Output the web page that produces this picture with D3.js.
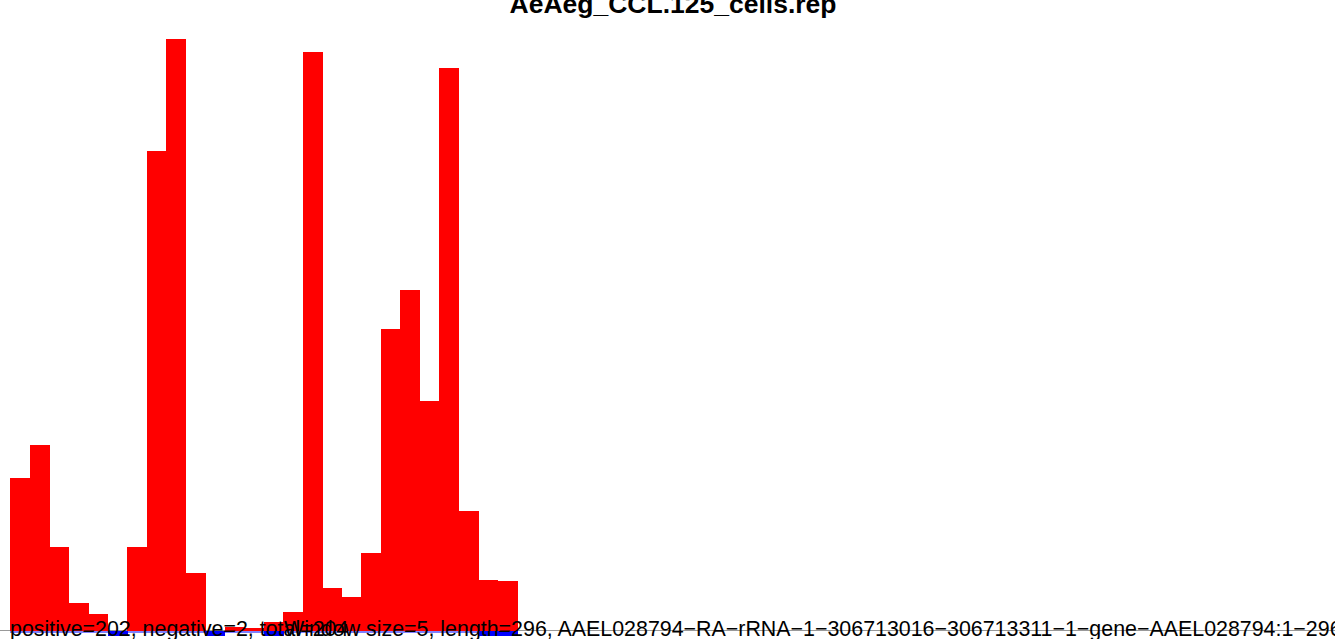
<!DOCTYPE html>
<html>
<head>
<meta charset="utf-8">
<script src="https://cdn.jsdelivr.net/npm/d3@7"></script>
<style>
  html, body { margin: 0; padding: 0; background: #fff; overflow: hidden; }
  svg { display: block; }
</style>
</head>
<body>
<script>
// ---- data (window index -> read density) ----
const windows = d3.range(26);
const positiveValues = [153, 186, 84, 28, 17, 0, 84, 480, 592, 58, 0, 4, 3, 9, 19, 579, 43, 34, 78, 302, 341, 230, 563, 120, 51, 50];
const negativeValues = [0, 0, 0, 0, 0, -5, 0, 0, 0, 0, -5, 0, 0, -5, 0, 0, 0, 0, 0, 0, 0, 0, 0, 0, -5, -5];
const titleText = "AeAeg_CCL.125_cells.rep";
const infoText = "positive=202, negative=2, total=204";
const windowText = "Window size=5, length=296, AAEL028794\u2212RA\u2212rRNA\u22121\u2212306713016\u2212306713311\u22121\u2212gene\u2212AAEL028794:1\u2212296";

const W = 1335, H = 639;
const svg = d3.select("body").append("svg").attr("width", W).attr("height", H);

const x = d3.scaleLinear().domain([0, 26]).range([10, 517]);
const y = d3.scaleLinear().domain([0, 592]).range([631, 39]);

// gray zero line
svg.append("line")
  .attr("x1", 0).attr("x2", W)
  .attr("y1", 630.5).attr("y2", 630.5)
  .attr("stroke", "#999").attr("stroke-width", 1);

// positive bars
svg.append("g").attr("shape-rendering", "crispEdges")
  .selectAll("rect.pos").data(windows).join("rect")
  .attr("x", i => x(i))
  .attr("width", i => x(i + 1) - x(i) + 0.5)
  .attr("y", i => y(positiveValues[i]))
  .attr("height", i => y(0) - y(positiveValues[i]))
  .attr("fill", "#ff0000");

// negative bars
svg.append("g").attr("shape-rendering", "crispEdges")
  .selectAll("rect.neg").data(windows.filter(i => negativeValues[i] < 0)).join("rect")
  .attr("x", i => x(i))
  .attr("width", i => x(i + 1) - x(i) + 0.5)
  .attr("y", y(0))
  .attr("height", i => y(negativeValues[i]) - y(0))
  .attr("fill", "#0000ff");

// blue baseline for negative strand
svg.append("line")
  .attr("x1", x(0)).attr("x2", x(26))
  .attr("y1", 632).attr("y2", 632)
  .attr("stroke", "#0000ff").attr("stroke-width", 1);

// title
svg.append("text")
  .attr("x", 673).attr("y", 13)
  .attr("text-anchor", "middle")
  .attr("font-family", "Liberation Sans, Arial, sans-serif")
  .attr("font-weight", "bold")
  .attr("font-size", 26.5)
  .attr("fill", "#000")
  .text(titleText);

// bottom texts
svg.append("text")
  .attr("x", 10).attr("y", 636)
  .attr("font-family", "Liberation Sans, Arial, sans-serif")
  .attr("font-size", 21.4)
  .attr("fill", "#000")
  .text(infoText);

svg.append("text")
  .attr("x", 284).attr("y", 636)
  .attr("font-family", "Liberation Sans, Arial, sans-serif")
  .attr("font-size", 21.4)
  .attr("fill", "#000")
  .text(windowText);
</script>
</body>
</html>
